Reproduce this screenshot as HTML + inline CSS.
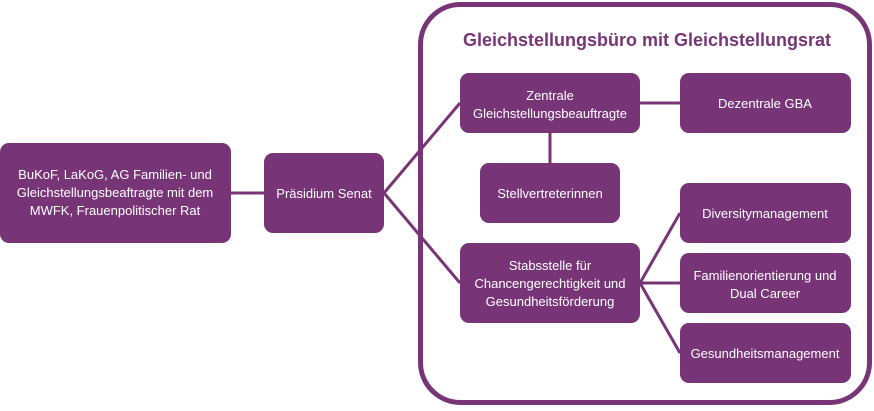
<!DOCTYPE html>
<html><head><meta charset="utf-8"><style>
body{margin:0;background:#fff;}
svg text{font-family:"Liberation Sans",Arial,sans-serif;fill:#fff;font-size:13px;text-anchor:middle;}
</style></head><body>
<svg width="874" height="406" xmlns="http://www.w3.org/2000/svg">
<g stroke="#773476" stroke-width="3" fill="none">
<rect x="420.5" y="4.5" width="449" height="398" rx="40" stroke-width="5"/>
<line x1="231" y1="193" x2="264" y2="193"/>
<line x1="384" y1="193" x2="460" y2="103"/>
<line x1="384" y1="193" x2="460" y2="283"/>
<line x1="640" y1="103" x2="680" y2="103"/>
<line x1="550" y1="133" x2="550" y2="163"/>
<line x1="640" y1="283" x2="680" y2="213"/>
<line x1="640" y1="283" x2="680" y2="283"/>
<line x1="640" y1="283" x2="680" y2="353"/>
</g>
<g fill="#773476">
<rect x="0" y="143" width="231" height="100" rx="9"/>
<rect x="264" y="153" width="120" height="80" rx="9"/>
<rect x="460" y="73" width="180" height="60" rx="9"/>
<rect x="680" y="73" width="171" height="60" rx="9"/>
<rect x="480" y="163" width="140" height="60" rx="9"/>
<rect x="460" y="243" width="180" height="80" rx="9"/>
<rect x="680" y="183" width="171" height="60" rx="9"/>
<rect x="680" y="253" width="171" height="60" rx="9"/>
<rect x="680" y="323" width="171" height="60" rx="9"/>
</g>
<text x="647" y="46" style="fill:#773476;font-size:18px;font-weight:bold">Gleichstellungsbüro mit Gleichstellungsrat</text>
<text x="115" y="179">BuKoF, LaKoG, AG Familien- und</text>
<text x="115" y="197">Gleichstellungsbeaftragte mit dem</text>
<text x="115" y="215">MWFK, Frauenpolitischer Rat</text>
<text x="324" y="198">Präsidium Senat</text>
<text x="550" y="100">Zentrale</text>
<text x="550" y="118">Gleichstellungsbeauftragte</text>
<text x="765" y="108">Dezentrale GBA</text>
<text x="550" y="198">Stellvertreterinnen</text>
<text x="550" y="270">Stabsstelle für</text>
<text x="550" y="288">Chancengerechtigkeit und</text>
<text x="550" y="306">Gesundheitsförderung</text>
<text x="765" y="218">Diversitymanagement</text>
<text x="765" y="280">Familienorientierung und</text>
<text x="765" y="298">Dual Career</text>
<text x="765" y="358">Gesundheitsmanagement</text>
</svg>
</body></html>
